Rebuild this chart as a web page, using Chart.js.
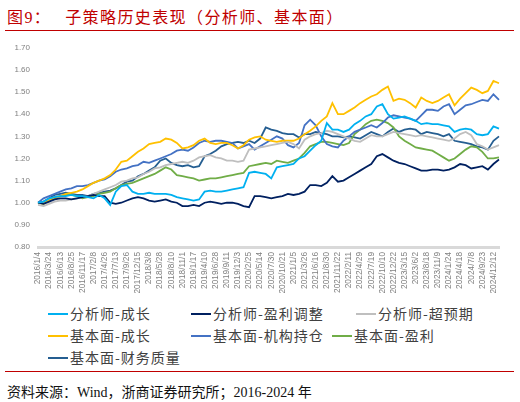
<!DOCTYPE html>
<html>
<head>
<meta charset="utf-8">
<script src="https://cdn.jsdelivr.net/npm/chart.js@4.4.0/dist/chart.umd.min.js"></script>
<style>
  html, body { margin: 0; padding: 0; background: #fff; }
  body { width: 520px; height: 402px; position: relative; overflow: hidden; font-family: "Liberation Serif", "Noto Sans CJK SC", serif; }
  #title { position: absolute; left: 7px; top: 4px; font-size: 16px; color: #C00000; letter-spacing: 1.4px; white-space: nowrap; font-family: "Liberation Serif", "Noto Sans CJK SC", serif; }
  .rule { position: absolute; left: 5px; width: 509px; height: 0; border-top: 1.5px solid #C00000; }
  #chartWrap { position: absolute; left: 0; top: 35px; width: 520px; height: 265px; }
  .lg { position: absolute; font-size: 14px; color: #404040; white-space: nowrap; letter-spacing: 1px; line-height: 18px; font-family: "Noto Sans CJK SC", sans-serif; }
  .lg i { display: inline-block; width: 20px; height: 2px; vertical-align: middle; margin-right: 2px; position: relative; top: -1px; }
  #source { position: absolute; left: 7px; top: 381px; font-size: 14px; color: #111; white-space: nowrap; font-family: "Liberation Serif", "Noto Sans CJK SC", serif; }
</style>
</head>
<body>
<div id="title">图9：<span style="margin-left:14px">子策略历史表现（分析师、基本面）</span></div>
<div class="rule" style="top:30px"></div>
<div id="chartWrap"><canvas id="c"></canvas></div>
<div id="legend"></div>
<div class="rule" style="top:371px"></div>
<div id="source">资料来源：Wind，浙商证券研究所；2016-2024 年</div>
<script>
const tickLabels = ["2016/1/4","2016/3/24","2016/6/13","2016/8/25","2016/11/17","2017/2/8","2017/4/26","2017/7/13","2017/9/26","2017/12/15","2018/3/8","2018/5/28","2018/8/10","2018/11/1","2019/1/17","2019/4/10","2019/6/28","2019/9/11","2019/12/3","2020/2/25","2020/5/14","2020/7/30","2020/10/21","2021/1/5","2021/3/26","2021/6/16","2021/8/30","2021/11/22","2022/2/11","2022/4/29","2022/7/19","2022/10/10","2022/12/22","2023/3/15","2023/6/2","2023/8/18","2023/11/9","2024/1/24","2024/4/18","2024/7/8","2024/9/23","2024/12/12"];

const seriesNames = ["分析师-成长","分析师-盈利调整","分析师-超预期","基本面-成长","基本面-机构持仓","基本面-盈利","基本面-财务质量"];
const seriesColors = ["#00B0F0","#002060","#BFBFBF","#FFC000","#4472C4","#70AD47","#255E91"];

const analystGrowth = [1.00,1.005,1.02,1.025,1.03,1.03,1.035,1.03,1.03,1.025,
 1.02,1.035,1.02,0.99,1.05,1.075,1.08,1.05,1.04,1.04,
 1.045,1.04,1.04,1.04,1.035,1.025,1.02,1.015,1.01,1.015,
 1.05,1.055,1.05,1.05,1.055,1.06,1.065,1.07,1.135,1.14,
 1.135,1.13,1.11,1.16,1.165,1.17,1.175,1.20,1.21,1.235,
 1.26,1.28,1.36,1.33,1.33,1.32,1.33,1.355,1.37,1.39,
 1.40,1.435,1.445,1.40,1.38,1.385,1.39,1.38,1.37,1.355,
 1.36,1.355,1.355,1.35,1.345,1.32,1.33,1.335,1.33,1.31,
 1.305,1.31,1.345,1.335];

const analystEarnRev = [1.00,0.995,1.005,1.015,1.02,1.02,1.015,1.02,1.025,1.03,
 1.035,1.03,1.03,1.00,0.995,1.00,1.01,1.02,1.025,1.02,
 1.01,1.005,1.01,1.015,1.005,1.00,0.985,0.985,0.99,0.985,
 1.00,1.005,1.00,0.995,1.00,1.00,0.995,0.985,0.98,1.03,
 1.03,1.025,1.02,1.025,1.03,1.04,1.035,1.04,1.05,1.08,
 1.08,1.075,1.09,1.12,1.095,1.10,1.115,1.13,1.145,1.16,
 1.175,1.21,1.22,1.205,1.19,1.18,1.175,1.165,1.155,1.145,
 1.145,1.15,1.15,1.145,1.15,1.16,1.175,1.17,1.155,1.16,
 1.165,1.15,1.175,1.195];

const analystSurprise = [0.99,0.985,0.995,1.005,1.01,1.01,1.015,1.02,1.025,1.03,
 1.04,1.05,1.06,1.07,1.08,1.095,1.10,1.11,1.115,1.13,
 1.14,1.155,1.16,1.17,1.175,1.18,1.185,1.18,1.19,1.205,
 1.21,1.215,1.205,1.20,1.19,1.19,1.185,1.19,1.24,1.245,
 1.25,1.255,1.26,1.265,1.27,1.275,1.265,1.245,1.285,1.30,
 1.31,1.315,1.325,1.32,1.31,1.30,1.29,1.28,1.275,1.29,
 1.305,1.30,1.30,1.31,1.32,1.315,1.31,1.305,1.30,1.305,
 1.30,1.295,1.29,1.285,1.28,1.29,1.31,1.32,1.305,1.265,
 1.255,1.24,1.25,1.26];

const fundGrowth = [1.00,0.995,1.01,1.02,1.03,1.04,1.045,1.05,1.06,1.075,
 1.09,1.10,1.11,1.125,1.15,1.185,1.19,1.21,1.23,1.245,
 1.265,1.27,1.275,1.29,1.285,1.27,1.245,1.25,1.26,1.28,
 1.29,1.27,1.265,1.27,1.27,1.26,1.245,1.26,1.285,1.295,
 1.30,1.285,1.28,1.275,1.28,1.28,1.28,1.29,1.31,1.325,
 1.345,1.37,1.39,1.45,1.40,1.40,1.415,1.43,1.45,1.465,
 1.48,1.49,1.51,1.525,1.46,1.47,1.465,1.45,1.43,1.475,
 1.46,1.45,1.46,1.475,1.49,1.44,1.47,1.495,1.52,1.51,
 1.495,1.505,1.55,1.54];

const fundInstHold = [1.00,1.02,1.03,1.04,1.05,1.06,1.065,1.075,1.075,1.08,
 1.09,1.10,1.105,1.12,1.14,1.15,1.155,1.165,1.17,1.185,
 1.18,1.19,1.20,1.21,1.22,1.235,1.24,1.235,1.25,1.27,
 1.28,1.275,1.28,1.28,1.275,1.27,1.245,1.255,1.265,1.24,
 1.255,1.27,1.285,1.30,1.29,1.26,1.25,1.27,1.35,1.375,
 1.35,1.30,1.265,1.255,1.25,1.28,1.30,1.32,1.33,1.34,
 1.35,1.34,1.36,1.385,1.395,1.39,1.385,1.38,1.37,1.395,
 1.42,1.42,1.415,1.435,1.445,1.40,1.42,1.44,1.445,1.455,
 1.465,1.46,1.49,1.465];

const fundProfit = [1.00,0.995,1.01,1.025,1.03,1.035,1.035,1.03,1.02,1.025,
 1.03,1.04,1.045,1.05,1.065,1.08,1.085,1.09,1.10,1.11,
 1.12,1.13,1.145,1.16,1.15,1.125,1.12,1.115,1.11,1.10,
 1.105,1.11,1.11,1.115,1.12,1.125,1.13,1.135,1.165,1.17,
 1.175,1.18,1.175,1.19,1.185,1.18,1.19,1.20,1.225,1.255,
 1.265,1.275,1.275,1.27,1.265,1.26,1.27,1.31,1.33,1.355,
 1.37,1.375,1.37,1.36,1.34,1.30,1.28,1.265,1.25,1.245,
 1.24,1.235,1.22,1.205,1.19,1.20,1.22,1.24,1.255,1.25,
 1.23,1.20,1.20,1.205];

const fundQuality = [1.00,1.005,1.02,1.035,1.04,1.045,1.04,1.035,1.035,1.03,
 1.04,1.045,1.05,1.055,1.065,1.08,1.095,1.10,1.12,1.13,
 1.145,1.16,1.19,1.20,1.18,1.17,1.165,1.17,1.16,1.165,
 1.21,1.22,1.235,1.255,1.265,1.27,1.275,1.27,1.28,1.27,
 1.29,1.34,1.33,1.325,1.315,1.31,1.31,1.295,1.31,1.31,
 1.32,1.315,1.31,1.30,1.30,1.295,1.30,1.295,1.29,1.305,
 1.32,1.31,1.30,1.32,1.335,1.32,1.33,1.335,1.33,1.31,
 1.32,1.315,1.31,1.30,1.31,1.28,1.275,1.27,1.265,1.255,
 1.25,1.24,1.28,1.30];

const yTicks = [0.80,0.90,1.00,1.10,1.20,1.30,1.40,1.50,1.60,1.70];

const seriesData = [analystGrowth, analystEarnRev, analystSurprise, fundGrowth, fundInstHold, fundProfit, fundQuality];
const nPts = analystGrowth.length;
const labels = [];
for (let i = 0; i < nPts; i++) {
  labels.push((i % 2 === 0 && i / 2 < tickLabels.length) ? tickLabels[i / 2] : '');
}

const datasets = seriesNames.map((name, i) => ({
  label: name,
  data: seriesData[i],
  borderColor: seriesColors[i],
  backgroundColor: seriesColors[i],
  borderWidth: 1.8,
  pointRadius: 0,
  tension: 0,
  fill: false
}));

new Chart(document.getElementById('c'), {
  type: 'line',
  data: { labels, datasets },
  options: {
    responsive: true,
    maintainAspectRatio: false,
    animation: false,
    layout: { padding: { top: 12, right: 21, left: 0, bottom: 0 } },
    plugins: { legend: { display: false }, tooltip: { enabled: false } },
    scales: {
      x: {
        type: 'category',
        offset: false,
        grid: { display: false, drawTicks: false },
        border: { display: true, color: '#D9D9D9', width: 3 },
        ticks: {
          autoSkip: false, minRotation: 90, maxRotation: 90, padding: 5,
          color: '#808080', font: { family: 'Liberation Sans', size: 8.3 },
          callback: function(v, i) { return labels[i]; }
        },
        afterFit: s => { s.height = 53; }
      },
      y: {
        min: 0.8, max: 1.7,
        grid: { display: false, drawTicks: false },
        border: { display: false },
        afterBuildTicks: s => { s.ticks = yTicks.map(v => ({ value: v })); },
        ticks: {
          padding: 8, color: '#808080', font: { family: 'Liberation Sans', size: 8 },
          callback: v => v.toFixed(2)
        },
        afterFit: s => { s.width = 38; }
      }
    }
  }
});

// HTML legend
const legendPos = [[48,304],[191,304],[356,304],[48,326],[191,326],[332,326],[48,348]];
const lg = document.getElementById('legend');
seriesNames.forEach((name, i) => {
  const d = document.createElement('div');
  d.className = 'lg';
  d.style.left = legendPos[i][0] + 'px';
  d.style.top = legendPos[i][1] + 'px';
  d.innerHTML = '<i style="background:' + seriesColors[i] + '"></i>' + name;
  lg.appendChild(d);
});
</script>
</body>
</html>
